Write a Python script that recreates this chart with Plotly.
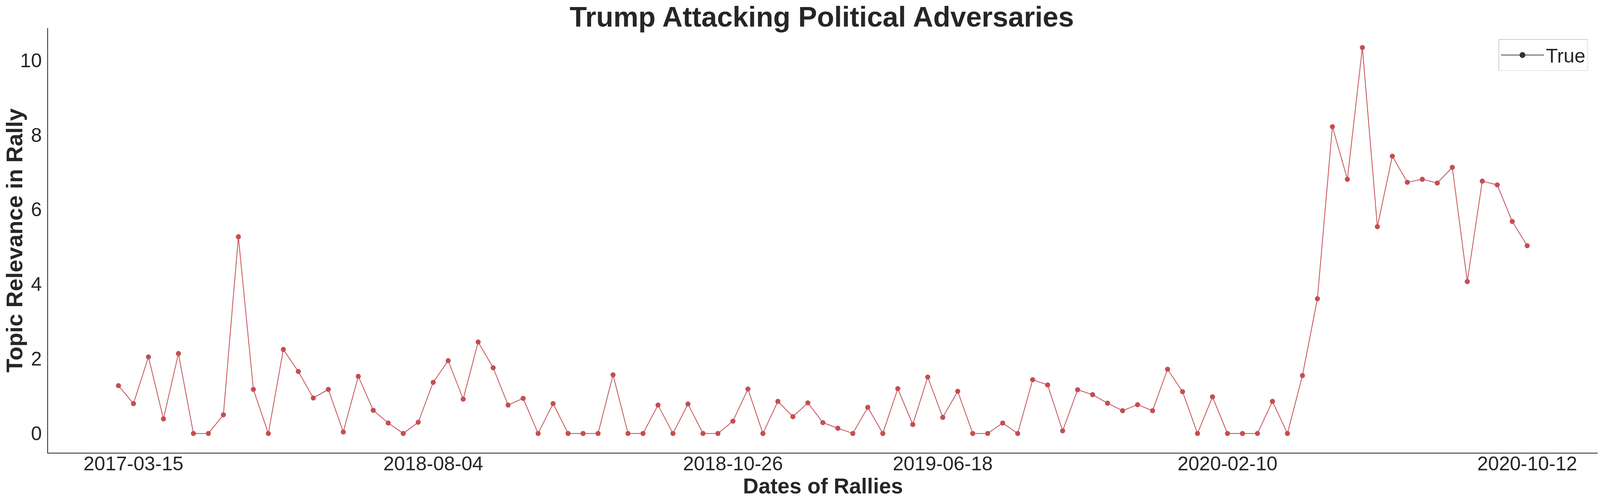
import plotly.graph_objects as go

# Topic relevance per rally, one value per rally in date order
relevance = [
    1.28, 0.80, 2.05, 0.39, 2.14, 0.00, 0.00, 0.50, 5.27, 1.18,
    0.00, 2.25, 1.66, 0.95, 1.18, 0.04, 1.53, 0.62, 0.28, 0.00,
    0.30, 1.37, 1.95, 0.92, 2.45, 1.76, 0.76, 0.94, 0.00, 0.80,
    0.00, 0.00, 0.00, 1.57, 0.00, 0.00, 0.76, 0.00, 0.79, 0.00,
    0.00, 0.33, 1.19, 0.00, 0.86, 0.45, 0.82, 0.29, 0.14, 0.00,
    0.70, 0.00, 1.20, 0.24, 1.51, 0.43, 1.13, 0.00, 0.00, 0.28,
    0.00, 1.44, 1.30, 0.07, 1.17, 1.04, 0.81, 0.61, 0.77, 0.61,
    1.72, 1.12, 0.00, 0.98, 0.00, 0.00, 0.00, 0.86, 0.00, 1.55,
    3.61, 8.22, 6.81, 10.34, 5.54, 7.43, 6.73, 6.81, 6.71, 7.13,
    4.07, 6.76, 6.66, 5.68, 5.03,
]
rally_index = list(range(len(relevance)))

# the few rally dates that are labelled on the x axis
tick_positions = [1, 21, 41, 55, 74, 94]
tick_dates = ["2017-03-15", "2018-08-04", "2018-10-26", "2019-06-18", "2020-02-10", "2020-10-12"]

y_ticks = [0, 2, 4, 6, 8, 10]

RED = "#C44E52"
DARK = "#262626"
FONT = "Liberation Sans, Arial, sans-serif"

fig = go.Figure()
fig.add_trace(go.Scatter(
    x=rally_index, y=relevance,
    mode="lines+markers",
    line=dict(color=RED, width=2),
    marker=dict(color=RED, size=13),
    showlegend=False,
))
# legend entry drawn in dark grey, like the original
fig.add_trace(go.Scatter(
    x=[None], y=[None],
    mode="lines+markers",
    name="True",
    line=dict(color="#444444", width=2),
    marker=dict(color="#333333", size=15),
))

fig.update_layout(
    autosize=True,
    margin=dict(l=123, r=6, t=72, b=126),
    plot_bgcolor="white", paper_bgcolor="white",
    font=dict(family=FONT, color=DARK, size=50),
    title=dict(
        text="<b>Trump Attacking Political Adversaries</b>",
        font=dict(size=72, color=DARK),
        x=0.5136, xanchor="center",
        y=1 - 43 / 1284, yref="container", yanchor="middle",
    ),
    xaxis=dict(
        range=[-4.7, 98.7],
        tickmode="array", tickvals=tick_positions, ticktext=tick_dates,
        showgrid=False, zeroline=False,
        showline=True, linecolor=DARK, linewidth=2,
        ticks="", ticklabelstandoff=-17,
        tickfont=dict(size=50, color=DARK),
    ),
    yaxis=dict(
        range=[-0.517, 10.86],
        tickmode="array", tickvals=y_ticks,
        showgrid=False, zeroline=False,
        showline=True, linecolor=DARK, linewidth=2,
        ticks="", ticklabelstandoff=4,
        tickfont=dict(size=50, color=DARK),
    ),
    legend=dict(
        x=0.9937, xanchor="right", y=0.974, yanchor="top",
        bordercolor="#cccccc", borderwidth=1.5,
        bgcolor="white", itemwidth=110,
        font=dict(size=50, color=DARK),
    ),
    annotations=[
        dict(text="<b>Dates of Rallies</b>", xref="paper", yref="paper",
             x=0.5, y=-0.078, xanchor="center", yanchor="middle",
             showarrow=False, font=dict(size=55, color=DARK)),
        dict(text="<b>Topic Relevance in Rally</b>", xref="paper", yref="paper",
             x=-0.0219, y=0.5, xanchor="center", yanchor="middle", textangle=-90,
             showarrow=False, font=dict(size=58, color=DARK)),
    ],
)

# fill the whole browser window, no page margin
fit_window = (
    "document.body.style.margin='0';"
    "document.documentElement.style.height='100%';"
    "document.body.style.height='100%';"
    "Plotly.Plots.resize(document.getElementById('{plot_id}'));"
)

fig.write_html("out.html", config={"responsive": True, "displayModeBar": False},
               default_width="100%", default_height="100%",
               post_script=fit_window)
